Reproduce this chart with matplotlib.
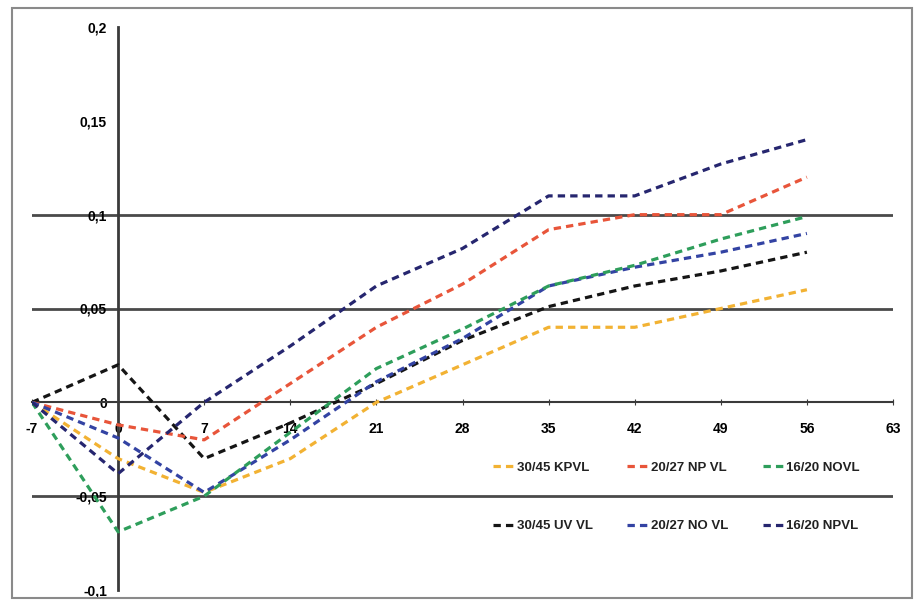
import matplotlib
matplotlib.use("Agg")
import matplotlib.pyplot as plt
from matplotlib.patches import Rectangle
from matplotlib.ticker import FuncFormatter

plt.rcParams["axes.unicode_minus"] = False

# days after treatment
days = [-7, 0, 7, 14, 21, 28, 35, 42, 49, 56]

kpvl_30_45 = [0, -0.03, -0.048, -0.03, 0.0, 0.02, 0.04, 0.04, 0.05, 0.06]
npvl_20_27 = [0, -0.012, -0.02, 0.01, 0.04, 0.063, 0.092, 0.1, 0.1, 0.12]
novl_16_20 = [0, -0.069, -0.05, -0.016, 0.018, 0.039, 0.062, 0.073, 0.087, 0.099]
uvvl_30_45 = [0, 0.02, -0.03, -0.011, 0.01, 0.033, 0.051, 0.062, 0.07, 0.08]
novl_20_27 = [0, -0.019, -0.048, -0.02, 0.011, 0.034, 0.062, 0.072, 0.08, 0.09]
npvl_16_20 = [0, -0.038, 0.0, 0.03, 0.062, 0.082, 0.11, 0.11, 0.127, 0.14]

# order gives legend rows: KPVL/NPVL/NOVL on top, UVVL/NOVL/NPVL below
series = [
    ("30/45 KPVL", kpvl_30_45, "#f2b233"),
    ("30/45 UV VL", uvvl_30_45, "#151515"),
    ("20/27 NP VL", npvl_20_27, "#e8553a"),
    ("20/27 NO VL", novl_20_27, "#3343a3"),
    ("16/20 NOVL", novl_16_20, "#2e9e5b"),
    ("16/20 NPVL", npvl_16_20, "#26266f"),
]

x_ticks = [-7, 0, 7, 14, 21, 28, 35, 42, 49, 56, 63]
y_ticks = [-0.1, -0.05, 0, 0.05, 0.1, 0.15, 0.2]
grid_levels = [0.1, 0.05, -0.05]
fam = ["Liberation Sans Narrow", "Liberation Sans", "DejaVu Sans"]

fig = plt.figure(figsize=(9.14, 6.05), dpi=100)
fig.patches.append(Rectangle((12 / 914, 7 / 605), 900 / 914, 590 / 605,
                             transform=fig.transFigure, fill=False,
                             edgecolor="#8a8a8a", lw=1.5))

ax = fig.add_axes([32 / 914, 15 / 605, 861 / 914, 563 / 605])
ax.set_xlim(-7, 63)
ax.set_ylim(-0.1, 0.2)
ax.patch.set_alpha(0)

for lvl in grid_levels:
    ax.axhline(lvl, color="#4a4a4a", lw=2.0, zorder=1)

for name, vals, col in series:
    ax.plot(days, vals, color=col, lw=2.3, linestyle=(0, (2.3, 1.6)),
            label=name, zorder=3)

ax.spines["top"].set_visible(False)
ax.spines["right"].set_visible(False)
ax.spines["left"].set_position(("data", 0))
ax.spines["bottom"].set_position(("data", 0))
ax.spines["left"].set_color("#3a3a3a")
ax.spines["left"].set_linewidth(2.0)
ax.spines["bottom"].set_color("#3a3a3a")
ax.spines["bottom"].set_linewidth(1.5)

comma = FuncFormatter(lambda v, p: ("%g" % round(v, 3)).replace(".", ","))
ax.set_xticks(x_ticks)
ax.set_yticks(y_ticks)
ax.yaxis.set_major_formatter(comma)
ax.tick_params(axis="x", direction="inout", length=5, pad=12, labelsize=10,
               color="#3a3a3a")
ax.tick_params(axis="y", length=0, pad=8, labelsize=10)
for lab in ax.get_xticklabels() + ax.get_yticklabels():
    lab.set_fontweight("bold")
    lab.set_family(fam)

leg = ax.legend(loc="upper left", bbox_to_anchor=(0.528, 0.24), ncol=3,
                frameon=False, handlelength=1.6, handletextpad=0.2,
                columnspacing=2.6, labelspacing=3.5, borderpad=0,
                prop={"family": fam, "weight": "bold", "size": 9.5})
for t in leg.get_texts():
    t.set_color("#222222")

fig.savefig("out.png", dpi=100, facecolor="white")
